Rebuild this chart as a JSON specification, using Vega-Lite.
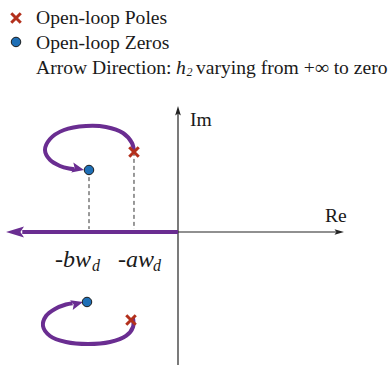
{
  "$schema": "https://vega.github.io/schema/vega-lite/v6.json",
  "width": 390,
  "height": 367,
  "padding": 0,
  "autosize": {"type": "none"},
  "background": "white",
  "config": {"view": {"stroke": null}},
  "datasets": {
    "axes": [
      {"seg": "im", "k": 0, "re": 0, "im": -2.99},
      {"seg": "im", "k": 1, "re": 0, "im": 2.7},
      {"seg": "re", "k": 0, "re": 0, "im": 0},
      {"seg": "re", "k": 1, "re": 3.55, "im": 0}
    ],
    "axisHeads": [
      {"dir": "up", "re": 0, "im": 2.831},
      {"dir": "right", "re": 3.73, "im": 0}
    ],
    "dashes": [
      {"seg": "b", "k": 0, "re": -2.0, "im": 1.39},
      {"seg": "b", "k": 1, "re": -2.0, "im": 0.067},
      {"seg": "a", "k": 0, "re": -0.989, "im": 1.8},
      {"seg": "a", "k": 1, "re": -0.989, "im": 0.067}
    ],
    "locus": [
      {"branch": "real", "k": 0, "re": 0, "im": 0},
      {"branch": "real", "k": 1, "re": -3.5, "im": 0},
      {"branch": "upper", "k": 0, "re": -0.989, "im": 1.798},
      {"branch": "upper", "k": 1, "re": -1.034, "im": 2.0},
      {"branch": "upper", "k": 2, "re": -1.236, "im": 2.225},
      {"branch": "upper", "k": 3, "re": -1.618, "im": 2.36},
      {"branch": "upper", "k": 4, "re": -2.067, "im": 2.382},
      {"branch": "upper", "k": 5, "re": -2.562, "im": 2.292},
      {"branch": "upper", "k": 6, "re": -2.876, "im": 2.09},
      {"branch": "upper", "k": 7, "re": -2.989, "im": 1.843},
      {"branch": "upper", "k": 8, "re": -2.876, "im": 1.618},
      {"branch": "upper", "k": 9, "re": -2.652, "im": 1.483},
      {"branch": "upper", "k": 10, "re": -2.45, "im": 1.425},
      {"branch": "upper", "k": 11, "re": -2.33, "im": 1.41},
      {"branch": "lower", "k": 0, "re": -1.011, "im": -1.933},
      {"branch": "lower", "k": 1, "re": -1.011, "im": -2.135},
      {"branch": "lower", "k": 2, "re": -1.169, "im": -2.337},
      {"branch": "lower", "k": 3, "re": -1.528, "im": -2.472},
      {"branch": "lower", "k": 4, "re": -2.022, "im": -2.517},
      {"branch": "lower", "k": 5, "re": -2.517, "im": -2.472},
      {"branch": "lower", "k": 6, "re": -2.876, "im": -2.337},
      {"branch": "lower", "k": 7, "re": -3.034, "im": -2.112},
      {"branch": "lower", "k": 8, "re": -2.966, "im": -1.888},
      {"branch": "lower", "k": 9, "re": -2.764, "im": -1.73},
      {"branch": "lower", "k": 10, "re": -2.52, "im": -1.63},
      {"branch": "lower", "k": 11, "re": -2.37, "im": -1.6}
    ],
    "heads": [
      {"branch": "real", "re": -3.865, "im": 0},
      {"branch": "upper", "re": -2.112, "im": 1.393},
      {"branch": "lower", "re": -2.135, "im": -1.573}
    ],
    "poles": [
      {"re": -0.989, "im": 1.798},
      {"re": -1.056, "im": -1.978},
      {"re": -3.64, "im": 4.809}
    ],
    "zeros": [
      {"re": -2.0, "im": 1.393},
      {"re": -2.045, "im": -1.573},
      {"re": -3.64, "im": 4.27}
    ],
    "texts": [
      {"role": "legend", "re": -3.191, "im": 4.809, "label": "Open-loop Poles"},
      {"role": "legend", "re": -3.191, "im": 4.247, "label": "Open-loop Zeros"},
      {"role": "legend", "re": -3.191, "im": 3.685, "label": "Arrow Direction:"},
      {"role": "legendItalic", "re": -0.045, "im": 3.685, "label": "h"},
      {"role": "legendSub", "re": 0.19, "im": 3.6, "label": "2"},
      {"role": "legend", "re": 0.404, "im": 3.685, "label": "varying from +∞ to zero"},
      {"role": "axisName", "re": 0.27, "im": 2.517, "label": "Im"},
      {"role": "axisName", "re": 3.303, "im": 0.36, "label": "Re"},
      {"role": "tick", "re": -2.764, "im": -0.629, "label": "-bw"},
      {"role": "tickSub", "re": -1.933, "im": -0.764, "label": "d"},
      {"role": "tick", "re": -1.348, "im": -0.629, "label": "-aw"},
      {"role": "tickSub", "re": -0.562, "im": -0.764, "label": "d"}
    ]
  },
  "encoding": {
    "x": {"field": "re", "type": "quantitative", "scale": {"domain": [-4, 4.764], "nice": false, "zero": false}, "axis": null},
    "y": {"field": "im", "type": "quantitative", "scale": {"domain": [-3.034, 5.213], "nice": false, "zero": false}, "axis": null}
  },
  "layer": [
    {
      "data": {"name": "axes"},
      "mark": {"type": "line", "color": "#222222", "strokeWidth": 1.2},
      "encoding": {"detail": {"field": "seg"}, "order": {"field": "k"}}
    },
    {
      "data": {"name": "axisHeads"},
      "transform": [{"filter": "datum.dir === 'up'"}],
      "mark": {"type": "point", "shape": "M0,0L-2,-0.6L-1.6,0L-2,0.6Z", "size": 90, "filled": true, "color": "#222222", "opacity": 1, "angle": 270}
    },
    {
      "data": {"name": "axisHeads"},
      "transform": [{"filter": "datum.dir === 'right'"}],
      "mark": {"type": "point", "shape": "M0,0L-2,-0.6L-1.6,0L-2,0.6Z", "size": 90, "filled": true, "color": "#222222", "opacity": 1, "angle": 0}
    },
    {
      "data": {"name": "dashes"},
      "mark": {"type": "line", "color": "#333333", "strokeWidth": 1, "strokeDash": [4, 3]},
      "encoding": {"detail": {"field": "seg"}, "order": {"field": "k"}}
    },
    {
      "data": {"name": "locus"},
      "mark": {"type": "line", "color": "#6a2d91", "strokeWidth": 4, "interpolate": "catmull-rom", "strokeCap": "butt"},
      "encoding": {"detail": {"field": "branch"}, "order": {"field": "k"}}
    },
    {
      "data": {"name": "heads"},
      "transform": [{"filter": "datum.branch === 'real'"}],
      "mark": {"type": "point", "shape": "M0,0L-2,-0.62L-1.6,0L-2,0.62Z", "size": 324, "filled": true, "color": "#6a2d91", "opacity": 1, "angle": 180}
    },
    {
      "data": {"name": "heads"},
      "transform": [{"filter": "datum.branch === 'upper'"}],
      "mark": {"type": "point", "shape": "M0,0L-2,-0.85L-1.6,0L-2,0.85Z", "size": 144, "filled": true, "color": "#6a2d91", "opacity": 1, "angle": 12}
    },
    {
      "data": {"name": "heads"},
      "transform": [{"filter": "datum.branch === 'lower'"}],
      "mark": {"type": "point", "shape": "M0,0L-2,-0.85L-1.6,0L-2,0.85Z", "size": 144, "filled": true, "color": "#6a2d91", "opacity": 1, "angle": 345}
    },
    {
      "data": {"name": "poles"},
      "mark": {"type": "point", "shape": "M-1,-1L1,1M-1,1L1,-1", "size": 90, "filled": false, "stroke": "#b3301c", "strokeWidth": 3, "opacity": 1}
    },
    {
      "data": {"name": "zeros"},
      "mark": {"type": "point", "shape": "circle", "size": 90, "filled": true, "fill": "#1e6fb6", "stroke": "#1a1a1a", "strokeWidth": 1, "opacity": 1}
    },
    {
      "data": {"name": "texts"},
      "transform": [{"filter": "datum.role === 'legend'"}],
      "mark": {"type": "text", "align": "left", "baseline": "middle", "font": "Liberation Serif", "fontSize": 19.6, "color": "#1a1a1a"},
      "encoding": {"text": {"field": "label"}}
    },
    {
      "data": {"name": "texts"},
      "transform": [{"filter": "datum.role === 'legendItalic'"}],
      "mark": {"type": "text", "align": "left", "baseline": "middle", "font": "Liberation Serif", "fontStyle": "italic", "fontSize": 19.6, "color": "#1a1a1a"},
      "encoding": {"text": {"field": "label"}}
    },
    {
      "data": {"name": "texts"},
      "transform": [{"filter": "datum.role === 'legendSub'"}],
      "mark": {"type": "text", "align": "left", "baseline": "middle", "font": "Liberation Serif", "fontStyle": "italic", "fontSize": 12, "color": "#1a1a1a"},
      "encoding": {"text": {"field": "label"}}
    },
    {
      "data": {"name": "texts"},
      "transform": [{"filter": "datum.role === 'axisName'"}],
      "mark": {"type": "text", "align": "left", "baseline": "middle", "font": "Liberation Serif", "fontSize": 19.6, "color": "#1a1a1a"},
      "encoding": {"text": {"field": "label"}}
    },
    {
      "data": {"name": "texts"},
      "transform": [{"filter": "datum.role === 'tick'"}],
      "mark": {"type": "text", "align": "left", "baseline": "middle", "font": "Liberation Serif", "fontStyle": "italic", "fontSize": 24, "color": "#1a1a1a"},
      "encoding": {"text": {"field": "label"}}
    },
    {
      "data": {"name": "texts"},
      "transform": [{"filter": "datum.role === 'tickSub'"}],
      "mark": {"type": "text", "align": "left", "baseline": "middle", "font": "Liberation Serif", "fontStyle": "italic", "fontSize": 16, "color": "#1a1a1a"},
      "encoding": {"text": {"field": "label"}}
    }
  ]
}
